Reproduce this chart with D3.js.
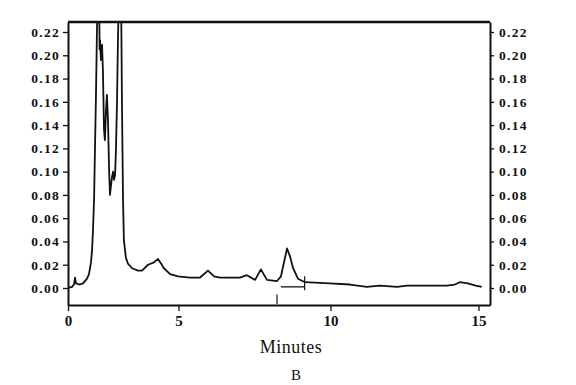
<!DOCTYPE html>
<html>
<head>
<meta charset="utf-8">
<script src="https://cdn.jsdelivr.net/npm/d3@7"></script>
<style>
  body { margin: 0; background: #fff; }
  text { font-family: "Liberation Serif", "DejaVu Serif", serif; fill: #111; }
</style>
</head>
<body>
<svg id="chart" width="576" height="385"></svg>
<script>
// time (minutes) and absorbance
var times = [0, 0.18, 0.27, 0.32, 0.36, 0.50, 0.68, 0.86, 0.95, 1.04, 1.09, 1.13, 1.18, 1.22, 1.27, 1.31, 1.36, 1.40,
	1.43, 1.45, 1.49, 1.54, 1.58, 1.63, 1.67, 1.72, 1.76, 1.81, 1.86, 1.90, 1.95, 1.99, 2.04, 2.08, 2.13, 2.17, 2.22,
	2.26, 2.31, 2.35, 2.40, 2.44, 2.49, 2.53, 2.62, 2.71, 2.90, 3.17, 3.35, 3.62, 3.89, 4.07, 4.21, 4.34, 4.62, 4.98,
	5.38, 5.71, 5.97, 6.17, 6.37, 6.69, 7.02, 7.25, 7.52, 7.71, 7.91, 8.24, 8.37, 8.47, 8.57, 8.67, 8.77, 8.93, 9.16,
	9.98, 10.66, 11.23, 11.67, 12.25, 12.58, 13.93, 14.20, 14.37, 14.64, 14.91, 15.11];
var absorb = [0.000, 0.001, 0.003, 0.009, 0.004, 0.003, 0.004, 0.008, 0.012, 0.022, 0.033, 0.050, 0.076, 0.119, 0.170, 0.222, 0.260, 0.270,
	0.205, 0.213, 0.196, 0.209, 0.187, 0.136, 0.127, 0.153, 0.166, 0.144, 0.101, 0.080, 0.089, 0.095, 0.100, 0.093, 0.097, 0.119, 0.162,
	0.213, 0.260, 0.270, 0.260, 0.162, 0.076, 0.041, 0.026, 0.021, 0.017, 0.015, 0.015, 0.020, 0.022, 0.025, 0.021, 0.017, 0.012, 0.010,
	0.009, 0.009, 0.015, 0.010, 0.009, 0.009, 0.009, 0.011, 0.007, 0.016, 0.007, 0.006, 0.010, 0.022, 0.034, 0.027, 0.017, 0.008, 0.005,
	0.004, 0.003, 0.001, 0.002, 0.001, 0.002, 0.002, 0.003, 0.005, 0.004, 0.002, 0.001];

var yTicks = [0, 0.02, 0.04, 0.06, 0.08, 0.10, 0.12, 0.14, 0.16, 0.18, 0.20, 0.22];
var xTicks = [0, 5, 10, 15];

// integration baseline marks under the 8.6 min peak
var baseMark = {t0: 8.37, t1: 9.16, v: 0.001};
var startTick = {t: 8.24, v0: -0.0055, v1: -0.014};
var endTick = {t: 9.15, v0: 0.010, v1: -0.002};

var plotL = 68, plotR = 490, plotT = 22, plotB = 305;

var svg = d3.select("#chart");

// scanned axis is not evenly spaced, so a piecewise scale follows the printed ticks
var x = d3.scaleLinear()
	.domain([0, 5, 10, 15.39])
	.range([plotL, 178.5, 330.5, plotR]);
var y = d3.scaleLinear()
	.domain([-0.0146, 0.2286])
	.range([plotB, plotT]);

svg.append("clipPath").attr("id", "clip")
	.append("rect")
	.attr("x", plotL).attr("y", plotT)
	.attr("width", plotR - plotL).attr("height", plotB - plotT);

var fmt = d3.format(".2f");

function styleAxis(g){
	g.selectAll("path").attr("stroke", "#111").attr("stroke-width", 2);
	g.selectAll("line").attr("stroke", "#111").attr("stroke-width", 1.3);
	g.selectAll("text")
		.attr("fill", "#111")
		.attr("font-size", "13.5px")
		.attr("font-weight", "bold")
		.attr("letter-spacing", "1.3px")
		.attr("font-family", "Liberation Serif, serif");
}

svg.append("g")
	.attr("transform", "translate(" + plotL + ",0)")
	.call(d3.axisLeft(y).tickValues(yTicks).tickFormat(fmt).tickSize(5).tickSizeOuter(0).tickPadding(3))
	.call(styleAxis);

svg.append("g")
	.attr("transform", "translate(" + plotR + ",0)")
	.call(d3.axisRight(y).tickValues(yTicks).tickFormat(fmt).tickSize(4).tickSizeOuter(0).tickPadding(5))
	.call(styleAxis);

svg.append("g")
	.attr("transform", "translate(0," + plotB + ")")
	.call(d3.axisBottom(x).tickValues(xTicks).tickFormat(d3.format("d")).tickSize(6).tickSizeOuter(0).tickPadding(4))
	.call(styleAxis)
	.selectAll("text").attr("font-size", "15px").attr("letter-spacing", "0px");

// top border
svg.append("line")
	.attr("x1", plotL).attr("x2", plotR)
	.attr("y1", plotT).attr("y2", plotT)
	.attr("stroke", "#111").attr("stroke-width", 2.5);

var pts = times.map(function(t, i){ return [t, absorb[i]]; });

svg.append("path")
	.datum(pts)
	.attr("clip-path", "url(#clip)")
	.attr("fill", "none")
	.attr("stroke", "#111")
	.attr("stroke-width", 1.8)
	.attr("stroke-linejoin", "round")
	.attr("d", d3.line()
		.x(function(d){ return x(d[0]); })
		.y(function(d){ return y(d[1]); }));

svg.append("line")
	.attr("x1", x(baseMark.t0)).attr("x2", x(baseMark.t1))
	.attr("y1", y(baseMark.v)).attr("y2", y(baseMark.v))
	.attr("stroke", "#111").attr("stroke-width", 1.3);
[startTick, endTick].forEach(function(m){
	svg.append("line")
		.attr("x1", x(m.t)).attr("x2", x(m.t))
		.attr("y1", y(m.v0)).attr("y2", y(m.v1))
		.attr("stroke", "#111").attr("stroke-width", 1.2);
});

svg.append("text")
	.attr("x", 291).attr("y", 353)
	.attr("text-anchor", "middle")
	.attr("font-size", "18px")
	.attr("letter-spacing", "0.5px")
	.text("Minutes");

svg.append("text")
	.attr("x", 296).attr("y", 380)
	.attr("text-anchor", "middle")
	.attr("font-size", "15px")
	.text("B");
</script>
</body>
</html>
